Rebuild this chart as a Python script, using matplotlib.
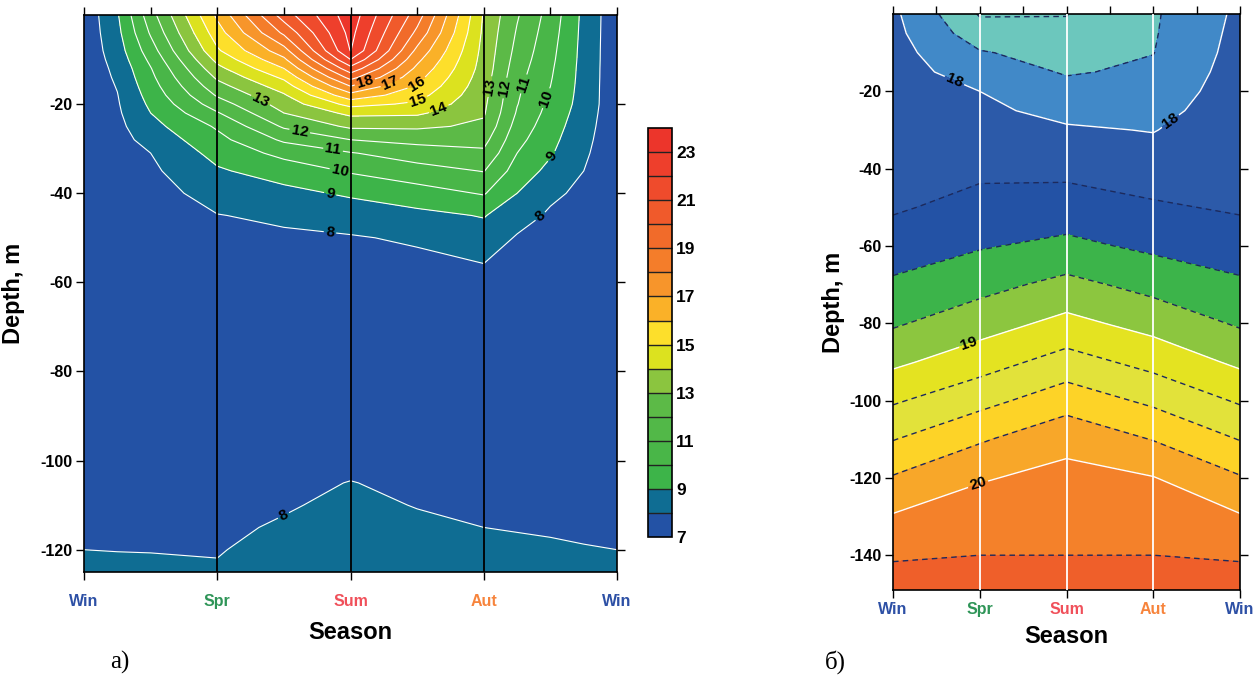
import numpy as np
import matplotlib.pyplot as plt
from matplotlib.ticker import MultipleLocator

plt.rcParams['font.family'] = ['Liberation Sans', 'DejaVu Sans']
plt.rcParams['axes.unicode_minus'] = False

seasons = ['Win', 'Spr', 'Sum', 'Aut', 'Win']
season_colors = ['#2d50a5', '#2f9558', '#f0505a', '#f7843c', '#2d50a5']

# --- panel a): temperature, columns along the season axis ---
t_x = [0, 0.25, 0.5, 1, 1.5, 2, 2.5, 3, 3.25, 3.5, 3.75, 4]
t_depth = [0, 4, 8, 10, 12, 14, 16, 18, 20, 22, 25, 28, 31, 35, 40, 45, 50, 56, 65,
           95, 105, 110, 115, 120, 125]
t_win = [7.3] * 19 + [7.6, 7.76, 7.84, 7.92, 8.0, 8.1]
t_025 = [8.9, 8.73, 8.53, 8.39, 8.25, 8.15, 8.05, 7.97, 7.91, 7.85, 7.75, 7.66, 7.6,
         7.55, 7.55, 7.55, 7.55, 7.52, 7.5, 7.6, 7.76, 7.84, 7.92, 7.99, 8.1]
t_050 = [11.6, 11.12, 10.54, 10.23, 9.95, 9.76, 9.57, 9.38, 9.19, 9.0, 8.67, 8.33, 8.0,
         7.82, 7.6, 7.58, 7.56, 7.54, 7.5, 7.6, 7.75, 7.83, 7.91, 7.99, 8.06]
t_spr = [16.2, 15.56, 14.86, 14.29, 13.72, 13.17, 12.63, 12.11, 11.52, 10.92, 10.13, 9.7,
         9.33, 8.88, 8.4, 7.97, 7.78, 7.59, 7.5, 7.6, 7.75, 7.82, 7.9, 7.97, 8.05]
t_150 = [20.5, 19.2, 17.6, 16.8, 16.0, 15.2, 14.5, 13.89, 13.44, 13.0, 12.14, 11.17,
         10.29, 9.45, 8.72, 8.17, 7.85, 7.6, 7.5, 7.6, 7.83, 7.95, 8.06, 8.17, 8.29]
t_sum = [23.6, 23.32, 23.04, 22.0, 20.67, 19.33, 18.0, 16.67, 15.33, 14.25, 13.17, 12.0,
         10.94, 10.1, 9.15, 8.42, 7.93, 7.73, 7.6, 7.6, 8.02, 8.12, 8.2, 8.3, 8.4]
t_250 = [19.5, 18.75, 17.75, 17.25, 16.78, 16.33, 15.88, 15.38, 14.83, 14.17, 13.17,
         12.29, 11.5, 10.6, 9.58, 8.73, 8.12, 7.78, 7.5, 7.6, 7.85, 7.98, 8.1, 8.2, 8.3]
t_aut = [13.9, 13.8, 13.7, 13.65, 13.6, 13.5, 13.4, 13.3, 13.2, 13.1, 12.83, 12.33,
         11.81, 11.04, 10.08, 9.06, 8.54, 7.98, 7.6, 7.6, 7.8, 7.9, 8.0, 8.1, 8.2]
t_325 = [12.1, 11.9, 11.7, 11.58, 11.45, 11.33, 11.2, 11.12, 11.04, 10.9, 10.6, 10.3,
         10.0, 9.56, 9.0, 8.38, 7.92, 7.68, 7.5, 7.6, 7.78, 7.88, 7.98, 8.07, 8.15]
t_350 = [10.6, 10.45, 10.3, 10.23, 10.15, 10.08, 10.0, 9.88, 9.76, 9.64, 9.46, 9.28,
         9.1, 8.73, 8.18, 7.87, 7.68, 7.57, 7.5, 7.6, 7.78, 7.87, 7.96, 8.05, 8.14]
t_375 = [8.75, 8.72, 8.69, 8.68, 8.66, 8.65, 8.63, 8.62, 8.6, 8.52, 8.4, 8.28, 8.16,
         8.0, 7.8, 7.6, 7.58, 7.55, 7.5, 7.6, 7.77, 7.85, 7.94, 8.02, 8.1]

t_levels = list(range(7, 25))
t_colors = ['#2352a5', '#0f6d93', '#3db449', '#49b648', '#52b848', '#5cba47', '#8bc53f',
            '#dce21f', '#fddf2b', '#fab128', '#f7952b', '#f47d2a', '#f16b2a', '#f05a2b',
            '#ef4b2c', '#ee3f2c', '#ec352b']
t_label_pos = [(2.1, -14.3), (2.31, -16), (2.5, -15.5), (2.52, -20.2), (2.67, -21.7),
               (1.3, -20.6), (1.62, -25.8), (1.87, -30), (1.92, -35), (1.85, -39.7),
               (1.85, -47.6), (3.03, -16), (3.16, -16.4), (3.32, -15.7), (3.47, -18.7),
               (3.5, -31.5), (3.4, -44.2), (1.5, -112.5)]

# --- panel б): salinity ---
s_x = [0, 1, 2, 3, 4]
s_depth = [0, 5, 10, 15, 20, 25, 30, 40, 50, 60, 70, 80, 90, 100, 110, 120, 130, 140, 150]
s_win = [18.05, 18.07, 18.09, 18.11, 18.12, 18.14, 18.16, 18.19, 18.22, 18.37, 18.54,
         18.72, 18.95, 19.22, 19.49, 19.77, 20.02, 20.22, 20.4]
s_spr = [17.48, 17.61, 17.77, 17.88, 18.0, 18.05, 18.1, 18.2, 18.33, 18.48, 18.67,
         18.89, 19.14, 19.42, 19.72, 19.98, 20.12, 20.25, 20.35]
s_sum = [17.49, 17.57, 17.65, 17.73, 17.83, 17.93, 18.03, 18.19, 18.36, 18.56, 18.82,
         19.07, 19.35, 19.64, 19.93, 20.07, 20.16, 20.25, 20.35]
s_aut = [17.72, 17.73, 17.745, 17.79, 17.86, 17.92, 17.99, 18.13, 18.28, 18.45, 18.67,
         18.91, 19.17, 19.45, 19.74, 20.01, 20.13, 20.25, 20.35]

s_levels = [17.25, 17.5, 17.75, 18, 18.25, 18.5, 18.75, 19, 19.25, 19.5, 19.75, 20, 20.25, 20.5]
s_colors = ['#6cc7bd', '#6cc7bd', '#4189c8', '#2c5aa9', '#2352a5', '#3cb44a', '#8cc63f',
            '#e4e321', '#e2e23a', '#fdd327', '#f8a729', '#f4812a', '#ef5f2a']
s_dashed = [17.5, 17.75, 18.25, 18.5, 18.75, 19.25, 19.5, 19.75, 20.25]
s_solid = [18, 19, 20]
s_label_pos = [(0.71, -17.1), (3.19, -27.5), (0.89, -86.2), (0.96, -120.3)]


def style_axis(ax, bottom_pad, vline_color):
    for x in (1, 2, 3):
        ax.axvline(x, color=vline_color, lw=1.3, zorder=3)
    ax.set_xlim(0, 4)
    ax.set_xticks(range(5))
    ax.set_xticklabels(seasons, fontsize=11.5, fontweight='bold')
    for lab, c in zip(ax.get_xticklabels(), season_colors):
        lab.set_color(c)
    ax.xaxis.set_minor_locator(MultipleLocator(0.5))
    ax.tick_params(axis='x', which='major', top=True, length=6, width=1, pad=bottom_pad)
    ax.tick_params(axis='x', which='minor', bottom=False, top=True, length=6, width=1)
    ax.tick_params(axis='y', right=True, length=6, width=1, pad=2, labelsize=11.5)
    for lab in ax.get_yticklabels():
        lab.set_fontweight('bold')
    for sp in ax.spines.values():
        sp.set_linewidth(1.2)


fig = plt.figure(figsize=(12.56, 6.87), dpi=100)

# panel a
ax1 = fig.add_axes([0.0669, 0.1674, 0.4244, 0.8108])
TX, TZ = np.meshgrid(t_x, t_depth)
T = np.column_stack([t_win, t_025, t_050, t_spr, t_150, t_sum, t_250, t_aut,
                     t_325, t_350, t_375, t_win])
cf1 = ax1.contourf(TX, -TZ, T, levels=t_levels, colors=t_colors)
cs1 = ax1.contour(TX, -TZ, T, levels=t_levels[1:-1], colors='white', linewidths=0.8)
lbl = ax1.clabel(cs1, fmt='%d', fontsize=11, colors='k', inline=True,
                 inline_spacing=2, manual=t_label_pos)
for t in lbl:
    t.set_fontweight('bold')
ax1.set_ylim(-125, 0)
ax1.set_yticks(range(-120, 0, 20))
style_axis(ax1, 10, 'black')
ax1.set_xlabel('Season', fontsize=17, fontweight='bold')
ax1.xaxis.set_label_coords(0.5, -0.088)
ax1.set_ylabel('Depth, m', fontsize=17, fontweight='bold')
ax1.yaxis.set_label_coords(-0.111, 0.5)

cax = fig.add_axes([0.5159, 0.2183, 0.0191, 0.5953])
cb = fig.colorbar(cf1, cax=cax, ticks=range(7, 24, 2), drawedges=True)
cb.dividers.set_color('#222222')
cb.dividers.set_linewidth(1.0)
cb.outline.set_linewidth(1.2)
cax.tick_params(length=0, pad=3, labelsize=12.5)
for lab in cax.get_yticklabels():
    lab.set_fontweight('bold')

# panel б
ax2 = fig.add_axes([0.711, 0.1412, 0.2763, 0.8384])
SX, SZ = np.meshgrid(s_x, s_depth)
S = np.column_stack([s_win, s_spr, s_sum, s_aut, s_win])
ax2.contourf(SX, -SZ, S, levels=s_levels, colors=s_colors)
ax2.contour(SX, -SZ, S, levels=s_dashed, colors='#1d2a5c', linewidths=1.0,
            linestyles=[(0, (4, 3))])
cs2 = ax2.contour(SX, -SZ, S, levels=s_solid, colors='white', linewidths=1.0)
lbl2 = ax2.clabel(cs2, fmt='%d', fontsize=11, colors='k', inline=True,
                  inline_spacing=2, manual=s_label_pos)
for t in lbl2:
    t.set_fontweight('bold')
ax2.set_ylim(-149, 0)
ax2.set_yticks(range(-140, 0, 20))
style_axis(ax2, 3, 'white')
ax2.set_xlabel('Season', fontsize=17, fontweight='bold')
ax2.xaxis.set_label_coords(0.5, -0.06)
ax2.set_ylabel('Depth, m', fontsize=17, fontweight='bold')
ax2.yaxis.set_label_coords(-0.138, 0.5)

fig.text(0.088, 0.036, 'а)', fontsize=18, family='Liberation Serif', va='center')
fig.text(0.657, 0.036, 'б)', fontsize=18, family='Liberation Serif', va='center')

fig.savefig('out.png', dpi=100)
